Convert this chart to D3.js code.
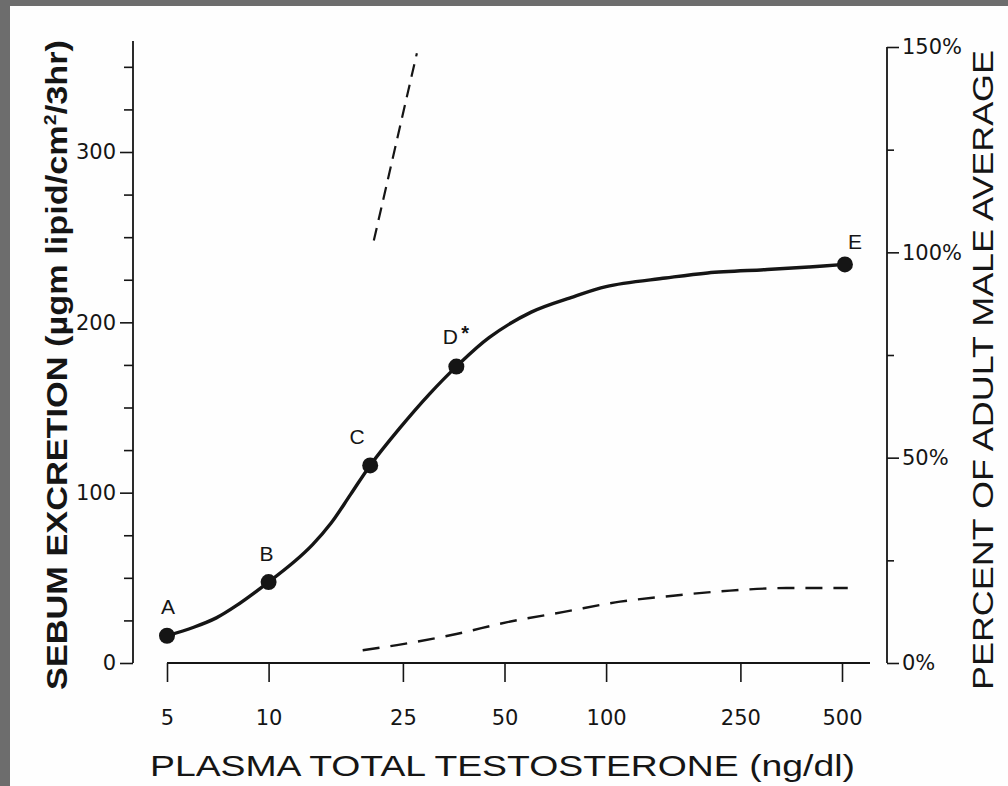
<!DOCTYPE html>
<html>
<head>
<meta charset="utf-8">
<script src="https://cdn.jsdelivr.net/npm/d3@7"></script>
<style>
  body { margin: 0; background: #6d6d6d; }
  svg { display: block; }
</style>
</head>
<body>
<svg width="1008" height="786"></svg>
<script>
// data
const xTicks = [5, 10, 25, 50, 100, 250, 500];
const yTicks = [0, 100, 200, 300];
const yMinor = [25, 50, 75, 125, 150, 175, 225, 250, 275, 325, 350];
const pctTicks = [0, 50, 100, 150];
const pctMinor = [25, 75, 125];

const pointNames = ["A", "B", "C", "D", "E"];
const pointX = [5, 10, 20, 36, 510];
const pointY = [16, 47.5, 116, 174, 234];

// solid fitted curve
const curveX = [5, 6, 7, 8, 10, 12, 13.5, 15.3, 17.5, 20, 24.5, 30, 36, 45, 60, 80, 100, 150, 200, 300, 400, 510];
const curveY = [16, 21, 26.5, 33.5, 47.5, 60, 69.5, 82, 99, 116, 138, 158, 174, 191, 206, 215, 221, 226, 229, 231, 232.5, 234];

// dashed lines
const upperDashX = [20.5, 27.5];
const upperDashY = [248, 358];
const lowerDashX = [19, 24, 36, 51, 75, 110, 158, 233, 342, 520];
const lowerDashY = [7.5, 10.5, 17, 24, 30, 36, 39.5, 42.5, 44, 44];

const svg = d3.select("svg");
const ink = "#151515";
const tickFont = "'DejaVu Sans', sans-serif";
const titleFont = "'Liberation Sans Narrow', 'Liberation Sans', sans-serif";

// white page on grey
svg.append("rect")
    .attr("x", 10).attr("y", 6)
    .attr("width", 998).attr("height", 780)
    .attr("fill", "#fefefe");

const x = d3.scaleLog().domain([5, 500]).range([167, 842]);
const y = d3.scaleLinear().domain([0, 300]).range([663, 152]);
const pct = d3.scaleLinear().domain([0, 150]).range([663, 47]);

function styleAxis(g) {
  g.select(".domain").remove();
  g.selectAll("line").attr("stroke", ink).attr("stroke-width", 1.6);
  g.selectAll("text")
    .attr("fill", ink)
    .style("font-family", tickFont)
    .style("font-size", "21px");
}

// left axis
svg.append("line")
    .attr("x1", 133).attr("x2", 133)
    .attr("y1", 41).attr("y2", y(0))
    .attr("stroke", ink).attr("stroke-width", 1.8);
svg.append("g")
    .attr("transform", "translate(133,0)")
    .call(d3.axisLeft(y).tickValues(yTicks).tickSize(13).tickPadding(4))
    .call(styleAxis);
svg.append("g")
    .attr("transform", "translate(133,0)")
    .call(d3.axisLeft(y).tickValues(yMinor).tickSize(9).tickFormat(""))
    .call(styleAxis);

// bottom axis
svg.append("line")
    .attr("x1", x(5)).attr("x2", 870)
    .attr("y1", y(0)).attr("y2", y(0))
    .attr("stroke", ink).attr("stroke-width", 1.8);
svg.append("g")
    .attr("transform", `translate(0,${y(0)})`)
    .call(d3.axisBottom(x).tickValues(xTicks).tickFormat(d3.format("d")).tickSize(19).tickPadding(28))
    .call(styleAxis);

// right axis (percent)
svg.append("line")
    .attr("x1", 887).attr("x2", 887)
    .attr("y1", pct(150)).attr("y2", pct(0))
    .attr("stroke", ink).attr("stroke-width", 1.8);
svg.append("g")
    .attr("transform", "translate(887,0)")
    .call(d3.axisRight(pct).tickValues(pctTicks).tickSize(12).tickPadding(3).tickFormat(d => d + "%"))
    .call(styleAxis);
svg.append("g")
    .attr("transform", "translate(887,0)")
    .call(d3.axisRight(pct).tickValues(pctMinor).tickSize(7).tickFormat(""))
    .call(styleAxis);

// dashed lines
const line = d3.line().x(d => x(d[0])).y(d => y(d[1]));
svg.append("path")
    .datum(d3.zip(upperDashX, upperDashY))
    .attr("d", line)
    .attr("fill", "none").attr("stroke", ink)
    .attr("stroke-width", 2.2).attr("stroke-dasharray", "13,8");
svg.append("path")
    .datum(d3.zip(lowerDashX, lowerDashY))
    .attr("d", line.curve(d3.curveMonotoneX))
    .attr("fill", "none").attr("stroke", ink)
    .attr("stroke-width", 2.4).attr("stroke-dasharray", "17,11");

// solid curve
svg.append("path")
    .datum(d3.zip(curveX, curveY))
    .attr("d", d3.line().x(d => x(d[0])).y(d => y(d[1])).curve(d3.curveCatmullRom.alpha(0.5)))
    .attr("fill", "none").attr("stroke", ink).attr("stroke-width", 3.4);

// points
const pts = d3.zip(pointNames, pointX, pointY);
svg.append("g").selectAll("circle")
    .data(pts).join("circle")
    .attr("cx", d => x(d[1])).attr("cy", d => y(d[2]))
    .attr("r", 8).attr("fill", ink);

const labelOffset = { A: [1, -22], B: [-2, -21], C: [-13, -21], D: [-6, -23], E: [10, -15] };
svg.append("g").selectAll("text")
    .data(pts).join("text")
    .attr("x", d => x(d[1]) + labelOffset[d[0]][0])
    .attr("y", d => y(d[2]) + labelOffset[d[0]][1])
    .attr("text-anchor", "middle")
    .attr("fill", ink)
    .style("font-family", "'Liberation Sans', sans-serif")
    .style("font-size", "21px")
    .text(d => d[0]);
// asterisk on D
svg.append("text")
    .attr("x", x(pointX[3]) + 5).attr("y", y(pointY[3]) - 27)
    .attr("fill", ink)
    .style("font-family", "'Liberation Sans', sans-serif")
    .style("font-size", "20px").style("font-weight", "bold")
    .text("*");

// axis titles
svg.append("text")
    .attr("x", 150).attr("y", 776)
    .attr("textLength", 705).attr("lengthAdjust", "spacingAndGlyphs")
    .attr("fill", ink)
    .style("font-family", titleFont)
    .style("font-size", "29px")
    .text("PLASMA TOTAL TESTOSTERONE (ng/dl)");

const yTitle = svg.append("text")
    .attr("transform", "translate(67,690) rotate(-90)")
    .attr("textLength", 650).attr("lengthAdjust", "spacingAndGlyphs")
    .attr("fill", ink)
    .style("font-family", titleFont)
    .style("font-size", "30px")
    .style("font-weight", "bold");
yTitle.append("tspan").text("SEBUM EXCRETION (µgm lipid/cm");
yTitle.append("tspan").attr("dy", -11).style("font-size", "17px").text("2");
yTitle.append("tspan").attr("dy", 11).text("/3hr)");

svg.append("text")
    .attr("transform", "translate(993,690) rotate(-90)")
    .attr("textLength", 640).attr("lengthAdjust", "spacingAndGlyphs")
    .attr("fill", ink)
    .style("font-family", titleFont)
    .style("font-size", "29px")
    .text("PERCENT OF ADULT MALE AVERAGE");
</script>
</body>
</html>
